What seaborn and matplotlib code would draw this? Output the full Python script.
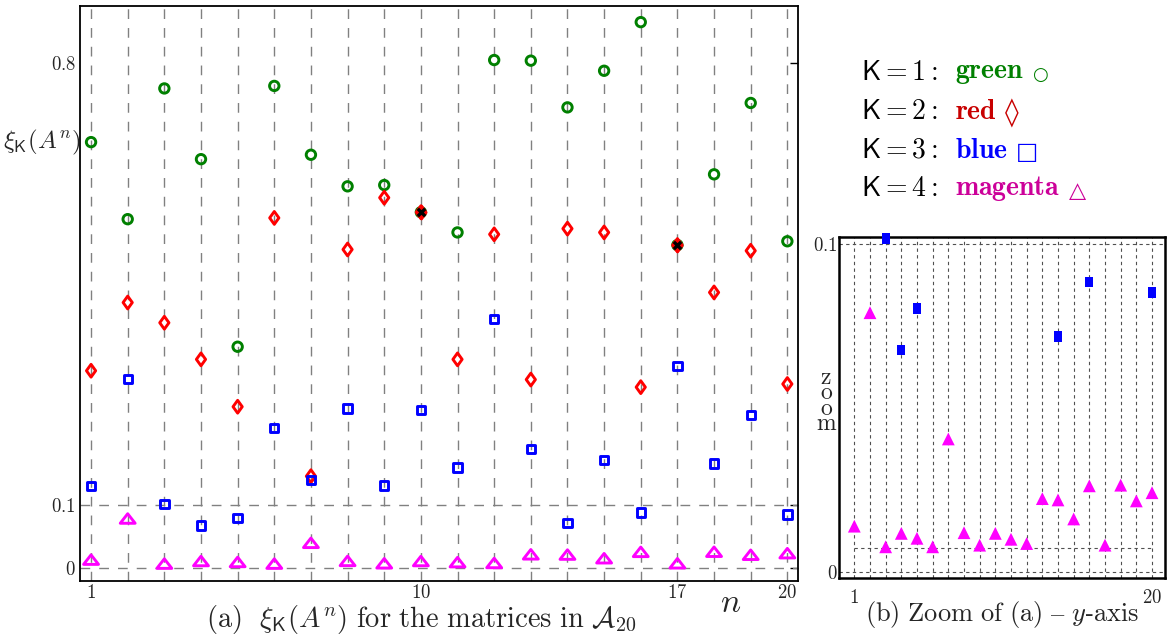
import numpy as np
import pandas as pd
import matplotlib
matplotlib.use("Agg")
import matplotlib.pyplot as plt
from matplotlib.path import Path
import seaborn as sns

# values, n = 1..20
n_vals = list(range(1, 21))
green_k1 = [0.675, 0.553, 0.760, 0.648, 0.351, 0.764, 0.655, 0.605, 0.607, 0.564,
            0.532, 0.805, 0.804, 0.730, 0.788, 0.865, 0.512, 0.624, 0.737, 0.518]
red_k2 = [0.313, 0.421, 0.389, 0.331, 0.256, 0.555, 0.146, 0.505, 0.587, 0.564,
          0.331, 0.529, 0.299, 0.538, 0.532, 0.287, 0.512, 0.437, 0.503, 0.292]
blue_k3 = [0.130, 0.300, 0.1016, 0.0677, 0.0803, 0.222, 0.140, 0.253, 0.131, 0.251,
           0.160, 0.395, 0.189, 0.0717, 0.172, 0.0884, 0.320, 0.166, 0.243, 0.0852]
magenta_k4 = [0.0139, 0.079, 0.0076, 0.0117, 0.0102, 0.0076, 0.0405, 0.0119, 0.0081, 0.0117,
              0.0099, 0.0086, 0.0223, 0.0219, 0.0161, 0.0262, 0.0081, 0.0264, 0.0216, 0.0241]
main_xticks = [1, 10, 17, 20]
main_yticks = [0, 0.1, 0.8]
zoom_threshold = 0.0071

legend_rows = [("1", "green", "\u25CB", 13, "#008000"),
               ("2", "red", "\u25CA", 20, "#c80000"),
               ("3", "blue", "\u25A1", 17, "#0000ff"),
               ("4", "magenta", "\u25B3", 16, "#cc0099")]

df = pd.DataFrame({"n": n_vals, "k1": green_k1, "k2": red_k2,
                   "k3": blue_k3, "k4": magenta_k4})

sns.set_theme(style="white")
plt.rcParams["mathtext.fontset"] = "cm"
plt.rcParams["font.family"] = ["DejaVu Serif"]

# marker shapes (the original is a bit stretched)
diamond = Path([(0, 1), (0.72, 0), (0, -1), (-0.72, 0), (0, 1)], closed=True)
tri_wide = Path([(-1, -0.64), (1, -0.64), (0, 0.64), (-1, -0.64)], closed=True)
rect_tall = Path([(-0.8, -1), (0.8, -1), (0.8, 1), (-0.8, 1), (-0.8, -1)], closed=True)

fig = plt.figure(figsize=(11.67, 6.35), dpi=100)
ax = fig.add_axes([0.0686, 0.0850, 0.6155, 0.906])
ax2 = fig.add_axes([0.7192, 0.0893, 0.2795, 0.537])

# ---------------- panel (a) ----------------
grid_kw = dict(color="#808080", lw=1.0, ls=(0, (7, 6.5)), zorder=1)
for n in n_vals:
    ax.axvline(n, **grid_kw)
ax.axhline(0.1, **grid_kw)
ax.axhline(0.0, **grid_kw)

lw = 2.1
sns.scatterplot(data=df, x="n", y="k1", ax=ax, marker="o", s=46, color="#008000",
                facecolor="none", edgecolor="#008000", linewidth=lw, zorder=3, legend=False)
sns.scatterplot(data=df, x="n", y="k2", ax=ax, marker=diamond, s=85, color="red",
                facecolor="none", edgecolor="red", linewidth=lw, zorder=3, legend=False)
sns.scatterplot(data=df, x="n", y="k3", ax=ax, marker="s", s=36, color="blue",
                facecolor="none", edgecolor="blue", linewidth=lw, zorder=3, legend=False)
sns.scatterplot(data=df, x="n", y="k4", ax=ax, marker=tri_wide, s=115, color="magenta",
                facecolor="none", edgecolor="magenta", linewidth=lw, zorder=3, legend=False)

# points where K=1 and K=2 coincide
same = df[np.isclose(df["k1"], df["k2"])]
sns.scatterplot(data=same, x="n", y="k2", ax=ax, marker=diamond, s=85, color="red",
                edgecolor="red", linewidth=lw, zorder=4, legend=False)
sns.scatterplot(data=same, x="n", y="k1", ax=ax, marker="x", s=28, color="black",
                linewidth=2.4, zorder=5, legend=False)

ax.set_xlim(0.70, 20.30)
ax.set_ylim(-0.020, 0.891)
ax.set_xticks(main_xticks, [rf"${t}$" for t in main_xticks])
ax.set_yticks(main_yticks, [rf"${t}$" for t in main_yticks])
ax.tick_params(axis="y", direction="in", length=6, right=True, labelsize=13.5, pad=3,
               color="black", width=1)
ax.tick_params(axis="x", direction="out", length=4, labelsize=13.5, pad=-2,
               color="black", width=1)
ax.set_xlabel("")
ax.set_ylabel("")
for sp in ax.spines.values():
    sp.set_color("black")
    sp.set_linewidth(1.3)

fig.text(80 / 1167, 1 - 142 / 635, r"$\xi_{\mathsf{K}}(A^n)$", ha="right", va="center",
         fontsize=18)
fig.text(731 / 1167, 1 - 603 / 635, r"$n$", ha="center", va="center", fontsize=24)
fig.text(421 / 1167, 1 - 619 / 635,
         r"$\mathrm{(a)}\ \ \xi_{\mathsf{K}}(A^n)\ \mathrm{for\ the\ matrices\ in}\ \mathcal{A}_{20}$",
         ha="center", va="center", fontsize=20.5)

# ---------------- legend text ----------------
for i, (k, word, sym, ssize, col) in enumerate(legend_rows):
    y = 1 - (73 + 38.5 * i) / 635
    fig.text(861 / 1167, y, rf"$\mathsf{{K}} = {k}{{:}}$", ha="left", va="center",
             fontsize=20, color="black")
    wt = fig.text(955 / 1167, y, rf"$\mathbf{{{word}}}$", ha="left", va="center",
                  fontsize=20, color=col)
    ax.annotate(sym, xy=(1.0, 0.42), xycoords=wt, xytext=(6, 0), textcoords="offset points",
                ha="left", va="center", fontsize=ssize, color=col, family="DejaVu Sans",
                annotation_clip=False)

# ---------------- panel (b) zoom ----------------
zgrid = dict(color="#505050", lw=0.8, ls=(0, (3, 3)), zorder=1)
for n in n_vals:
    ax2.axvline(n, **zgrid)
ax2.axhline(0.1, **zgrid)
ax2.axhline(0.0, **zgrid)
ax2.hlines(zoom_threshold, n_vals[0], n_vals[-1], **zgrid)

low_blue = df[df["k3"] <= 0.102]
sns.scatterplot(data=low_blue, x="n", y="k3", ax=ax2, marker=rect_tall, s=55, color="blue",
                edgecolor="none", linewidth=0, zorder=3, clip_on=False, legend=False)
sns.scatterplot(data=df, x="n", y="k4", ax=ax2, marker="^", s=85, color="magenta",
                edgecolor="none", linewidth=0, zorder=3, clip_on=False, legend=False)

ax2.set_xlim(0.042, 20.86)
ax2.set_ylim(-0.0020, 0.1020)
ax2.set_xticks([1, 20], [r"$1$", r"$20$"])
ax2.set_yticks([0, 0.1], [r"$0$", r"$0.1$"])
ax2.tick_params(axis="y", direction="in", length=0, labelsize=13.5, pad=1)
ax2.tick_params(axis="x", direction="in", length=0, labelsize=13.5, pad=8)
ax2.set_xlabel("")
ax2.set_ylabel("")
for sp in ax2.spines.values():
    sp.set_color("black")
    sp.set_linewidth(1.8)

fig.text(826 / 1167, 1 - 401 / 635, "z\no\no\nm", ha="center", va="center",
         fontsize=17, family="cmr10", linespacing=0.62)

fig.text(1002 / 1167, 1 - 615 / 635,
         "$\\mathrm{(b)\\ Zoom\\ of\\ (a)}\\ \u2013\\ y\\mathrm{\u2010axis}$",
         ha="center", va="center", fontsize=19)

fig.savefig("out.png", dpi=100)
